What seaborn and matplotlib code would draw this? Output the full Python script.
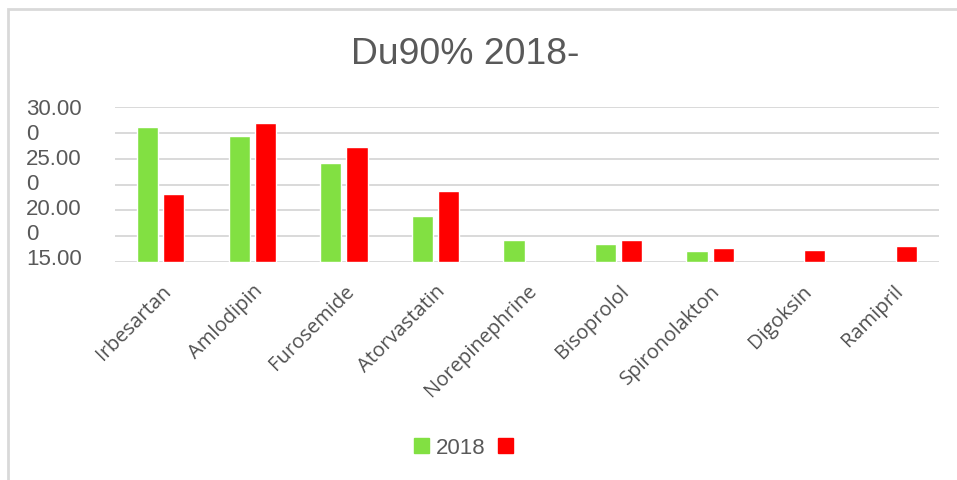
import numpy as np
import pandas as pd
import matplotlib
matplotlib.use("Agg")
import matplotlib.pyplot as plt
from matplotlib.patches import Rectangle
import seaborn as sns

# data
drugs = ["Irbesartan", "Amlodipin", "Furosemide", "Atorvastatin", "Norepinephrine",
         "Bisoprolol", "Spironolakton", "Digoksin", "Ramipril"]
series = ["2018", ""]
values_2018 = [26100, 24450, 19150, 8900, 4250, 3480, 2200, np.nan, np.nan]
values_other = [13150, 26900, 22250, 13750, np.nan, 4200, 2650, 2300, 3100]
grid_ticks = [0, 5000, 10000, 15000, 20000, 25000, 30000]
ylabel_texts = ["30.00", "0", "25.00", "0", "20.00", "0", "15.00"]

colors = ["#82E042", "#FF0000"]

df = pd.DataFrame({
    "drug": drugs * 2,
    "series": [series[0]] * len(drugs) + [series[1]] * len(drugs),
    "value": values_2018 + values_other,
}).dropna()

sns.set_style("white")

fig = plt.figure(figsize=(9.57, 4.8), dpi=100)
ax = fig.add_axes([115 / 957, 1 - 262 / 480, (939 - 115) / 957, (262 - 107) / 480])

sns.barplot(data=df, x="drug", y="value", hue="series", order=drugs, hue_order=series,
            palette=colors, width=0.57, gap=0.19, saturation=1, ax=ax, legend=False)

ax.set_ylim(0, 30000)
ax.set_xlim(-0.5, len(drugs) - 0.5)
ax.set_yticks(grid_ticks)
ax.set_yticklabels([])
ax.yaxis.grid(True, color="#D9D9D9", linewidth=1.4)
ax.set_axisbelow(True)
for s in ax.spines.values():
    s.set_visible(False)

# wrapped y labels (stacked as in the original)
ax.yaxis.remove_overlapping_locs = False
step = 25 / 155 * 30000
ax.set_yticks([30000 - i * step for i in range(len(ylabel_texts))], minor=True)
ax.set_yticklabels(ylabel_texts, minor=True)
ax.tick_params(axis="y", which="both", length=0, pad=64, labelsize=16, labelcolor="#595959")
for t in ax.get_yticklabels(minor=True):
    t.set_ha("left")
    t.set_fontfamily("Liberation Sans")

ax.set_xticks(range(len(drugs)))
ax.set_xticklabels(drugs, rotation=45, ha="right", rotation_mode="anchor",
                   fontsize=14.5, color="#505050", fontfamily="Open Sans")
ax.tick_params(axis="x", length=0, pad=14)
ax.set_xlabel("")
ax.set_ylabel("")

fig.text(465 / 957, 1 - 54 / 480, "Du90% 2018-", ha="center", va="center",
         fontsize=26.8, color="#595959", fontfamily="Liberation Sans")

handles = [Rectangle((0, 0), 1, 1, color=c) for c in colors]
fig.legend(handles, series, loc="center", bbox_to_anchor=(467 / 957, 1 - 448 / 480),
           ncol=2, frameon=False, handlelength=0.65, handleheight=0.65, handletextpad=0.3,
           columnspacing=0.6, prop={"family": "Liberation Sans", "size": 16},
           labelcolor="#595959")

# chart border
fig.patches.append(Rectangle((8 / 957, -0.1), 1.2, 1.1 - 9 / 480, transform=fig.transFigure,
                             fill=False, edgecolor="#D9D9D9", linewidth=2, figure=fig))

fig.savefig("out.png", dpi=100)
